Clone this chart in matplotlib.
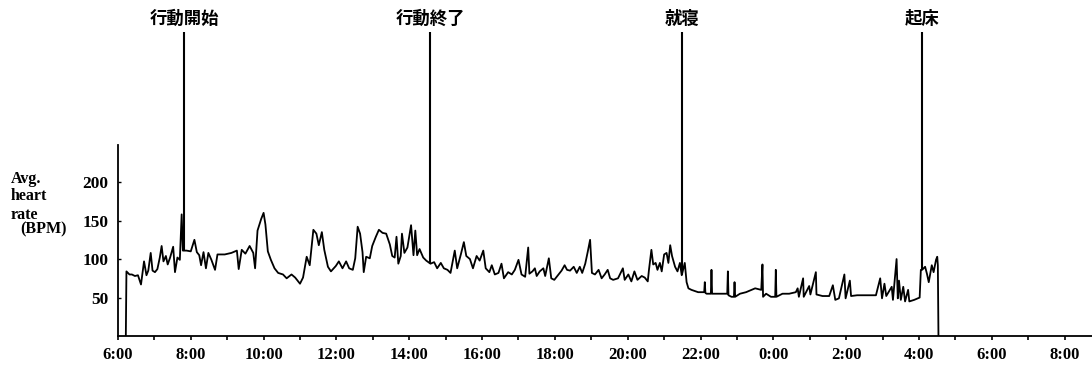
import matplotlib
matplotlib.use("Agg")
import matplotlib.pyplot as plt
import numpy as np

# Heart-rate trace, minutes after 6:00 and average BPM
minutes = [
    13, 14, 19, 23, 28, 33, 38, 40, 43, 47, 50, 54, 57, 61, 65, 69, 72, 75, 79, 82,
    86, 91, 94, 98, 102, 105, 107, 109, 113, 120, 126, 130, 134, 137, 141, 145, 149, 154, 160, 164,
    176, 187, 196, 199, 204, 210, 217, 223, 226, 230, 236, 240, 243, 247, 252, 258, 264, 272, 278, 286,
    292, 300, 305, 311, 316, 322, 327, 331, 336, 340, 346, 351, 359, 364, 370, 376, 381, 387, 391, 395,
    399, 403, 405, 409, 415, 419, 425, 430, 436, 442, 448, 452, 456, 459, 462, 466, 468, 472, 477, 483,
    487, 490, 493, 497, 503, 508, 515, 521, 526, 532, 537, 543, 548, 555, 559, 565, 570, 574, 580, 585,
    591, 596, 602, 606, 612, 616, 621, 627, 632, 636, 643, 649, 654, 660, 665, 671, 676, 678, 683, 687,
    690, 695, 701, 704, 710, 714, 719, 726, 731, 736, 740, 745, 751, 756, 761, 765, 770, 774, 778, 781,
    786, 792, 797, 802, 807, 811, 816, 824, 832, 835, 841, 846, 851, 856, 863, 868, 873, 875, 879, 882,
    886, 889, 893, 896, 900, 904, 907, 910, 913, 918, 922, 926, 929, 934, 937, 940, 945, 956, 966, 967,
    968, 970, 977, 978, 979, 994, 1004, 1005, 1006, 1011, 1015, 1016, 1017, 1025, 1035, 1050, 1060, 1062, 1063, 1068,
    1076, 1083, 1084, 1085, 1095, 1106, 1117, 1120, 1122, 1129, 1130, 1139, 1141, 1150, 1151, 1161, 1172, 1178, 1182, 1188,
    1197, 1199, 1206, 1208, 1218, 1232, 1249, 1256, 1259, 1263, 1266, 1275, 1277, 1283, 1285, 1287, 1290, 1294, 1297, 1302,
    1304, 1312, 1321, 1323, 1325, 1330, 1333, 1336, 1341, 1344, 1348, 1350, 1351, 1352,
]
bpm = [
    0, 84, 80, 80, 78, 79, 67, 79, 97, 79, 85, 108, 85, 83, 87, 102, 117, 97, 104, 93,
    102, 116, 83, 102, 99, 158, 111, 111, 111, 110, 125, 109, 105, 92, 109, 88, 108, 99, 86, 106,
    106, 108, 111, 87, 112, 107, 117, 108, 88, 137, 152, 160, 145, 110, 99, 88, 82, 80, 75, 80,
    76, 68, 76, 103, 92, 138, 133, 118, 135, 112, 90, 84, 91, 97, 88, 97, 88, 86, 101, 142,
    133, 109, 83, 103, 101, 117, 129, 138, 134, 133, 119, 104, 102, 129, 94, 104, 133, 108, 115, 144,
    105, 137, 105, 113, 102, 98, 94, 96, 88, 95, 88, 86, 82, 111, 88, 106, 122, 104, 100, 88,
    104, 98, 111, 88, 83, 92, 80, 82, 94, 75, 83, 80, 86, 99, 80, 77, 115, 81, 84, 88,
    78, 84, 88, 78, 101, 75, 73, 80, 85, 92, 86, 85, 90, 82, 90, 82, 94, 109, 125, 82,
    80, 86, 75, 80, 86, 75, 73, 75, 88, 73, 80, 71, 84, 73, 78, 76, 71, 86, 112, 93,
    95, 86, 95, 84, 106, 108, 95, 118, 104, 90, 84, 95, 79, 95, 70, 62, 60, 57, 57, 70,
    56, 55, 55, 86, 55, 55, 55, 84, 53, 51, 51, 70, 51, 55, 57, 62, 60, 93, 51, 55,
    51, 51, 86, 51, 55, 55, 57, 62, 51, 75, 51, 65, 54, 83, 54, 52, 52, 66, 47, 49,
    80, 49, 72, 52, 53, 53, 53, 75, 49, 68, 52, 64, 47, 100, 49, 72, 47, 64, 45, 60,
    45, 47, 50, 86, 86, 90, 81, 70, 92, 83, 99, 103, 92, 0,
]

# Event markers (minutes after 6:00)
events = ["行動開始", "行動終了", "就寝", "起床"]
event_minutes = [109, 515, 929, 1325]

hour_labels = ["6:00", "8:00", "10:00", "12:00", "14:00", "16:00", "18:00",
               "20:00", "22:00", "0:00", "2:00", "4:00", "6:00", "8:00"]

serif = "Liberation Serif"

fig = plt.figure(figsize=(10.92, 3.73), dpi=100)
ax = fig.add_axes([0.108, 0.099, 0.892, 0.512])

ax.plot(minutes, bpm, color="black", lw=1.3)

# marker spikes run off the top of the plot up to their labels
marker_base = np.interp(event_minutes, minutes, bpm)
ax.vlines(event_minutes, marker_base, 395, color="black", lw=1.5, clip_on=False)
for name, m in zip(events, event_minutes):
    ax.text(m, 400, name, ha="center", va="bottom", fontsize=12.5, fontweight="bold",
            family=["Noto Sans CJK JP", "DejaVu Sans"], clip_on=False)

ax.set_xlim(0, 1605)
ax.set_ylim(0, 248)

for side in ["top", "right"]:
    ax.spines[side].set_visible(False)
for side in ["left", "bottom"]:
    ax.spines[side].set_linewidth(1.3)

ax.set_xticks(range(0, 26 * 60 + 1, 120))
ax.set_xticks(range(0, 26 * 60 + 1, 60), minor=True)
ax.set_xticklabels(hour_labels, family=serif, fontweight="bold", fontsize=12)
ax.tick_params(axis="x", which="both", direction="out", length=3, width=1.2, pad=5)

ax.set_yticks([50, 100, 150, 200])
ax.set_yticklabels(["50", "100", "150", "200"], family=serif, fontweight="bold", fontsize=12.5)
ax.tick_params(axis="y", direction="in", length=2, width=1, pad=7)

# axis title, stacked on the left
fig.text(0.010, 0.52, "Avg.", family=serif, fontweight="bold", fontsize=11.5, va="center")
fig.text(0.010, 0.474, "heart", family=serif, fontweight="bold", fontsize=11.5, va="center")
fig.text(0.010, 0.424, "rate", family=serif, fontweight="bold", fontsize=11.5, va="center")
fig.text(0.019, 0.384, "(BPM)", family=serif, fontweight="bold", fontsize=11.5, va="center")

fig.savefig("out.png", dpi=100, facecolor="white")
